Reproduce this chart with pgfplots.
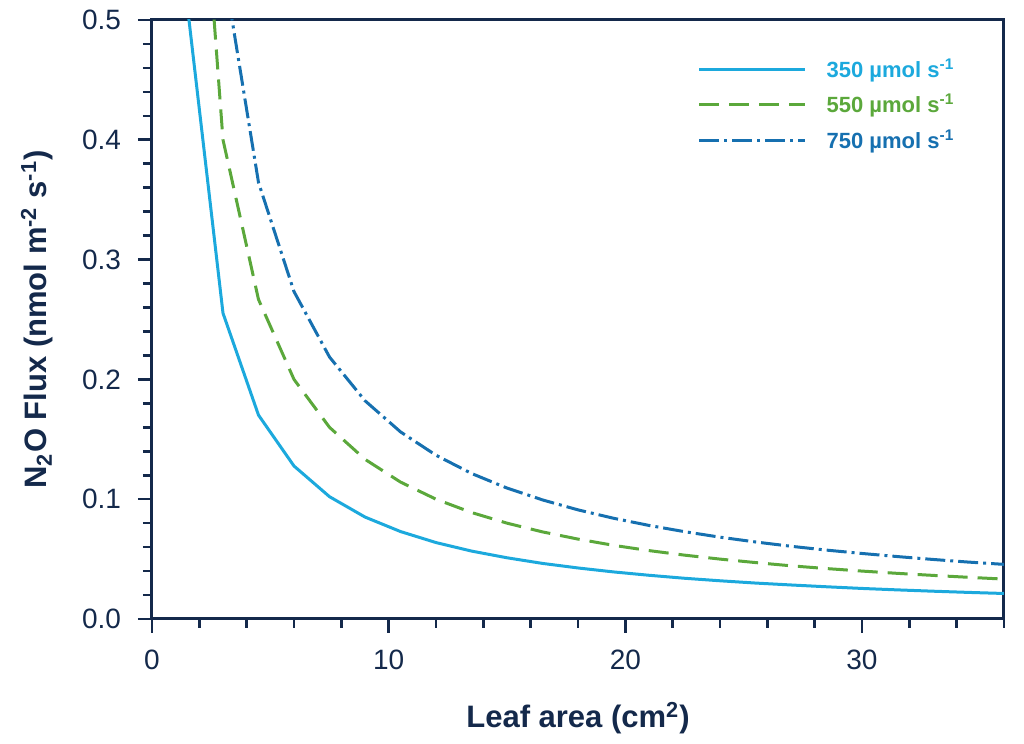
\documentclass[border=0pt]{standalone}
\usepackage{pgfplots}
\pgfplotsset{compat=1.18}
\usepackage{fontspec}
\setmainfont{Liberation Sans}
\definecolor{navy}{HTML}{14294B}
\definecolor{cA}{HTML}{1CA9DD}
\definecolor{cB}{HTML}{5BA83B}
\definecolor{cC}{HTML}{1670B0}
\begin{document}
\begin{tikzpicture}
\path[use as bounding box] (0,0) rectangle (512pt,372pt);
\begin{axis}[
  at={(76pt,62.5pt)}, anchor=south west,
  scale only axis, width=426pt, height=299.5pt,
  xmin=0, xmax=36, ymin=0, ymax=0.5,
  axis line style={navy, line width=1.5pt},
  every tick/.style={navy, line width=1.3pt},
  xtick={0,10,20,30}, minor xtick={2,4,6,8,12,14,16,18,22,24,26,28,32,34,36},
  ytick={0,0.1,0.2,0.3,0.4,0.5},
  minor ytick={0.02,0.04,0.06,0.08,0.12,0.14,0.16,0.18,0.22,0.24,0.26,0.28,0.32,0.34,0.36,0.38,0.42,0.44,0.46,0.48},
  tick align=outside,
  major tick length=7pt, minor tick length=4.5pt,
  xtick pos=bottom, ytick pos=left,
  /pgf/number format/assume math mode=true,
  yticklabel style={/pgf/number format/fixed, /pgf/number format/precision=1, /pgf/number format/fixed zerofill},
  ticklabel style={font=\fontsize{14}{16}\selectfont, text=navy},
  xticklabel style={yshift=-5pt},
  yticklabel style={xshift=-5pt},
  scaled y ticks=false,
  xlabel={Leaf area (cm\textsuperscript{2})},
  ylabel={N\textsubscript{2}O Flux (nmol m\textsuperscript{-2} s\textsuperscript{-1})},
  label style={font=\bfseries\fontsize{15.5}{18}\selectfont, text=navy},
  xlabel style={at={(0.5,0)}, anchor=center, yshift=-49.5pt},
  ylabel style={at={(0,0.5)}, anchor=center, rotate=0, yshift=57.5pt},
  legend style={at={(0.64,0.943)}, anchor=north west, draw=none, fill=none,
    font=\bfseries\fontsize{11}{13}\selectfont, inner sep=0pt, row sep=3pt,
    nodes={inner sep=2pt}},
  legend cell align=left,
  legend image code/.code={\draw[#1] (0pt,0pt) -- (53pt,0pt);},
  clip=true,
]
\addplot[cA, line width=1.5pt] coordinates {
(1.5,0.5107)(3,0.2553)(4.5,0.1702)(6,0.1277)(7.5,0.1021)(9,0.0851)(10.5,0.0730)(12,0.0638)
(13.5,0.0567)(15,0.0511)(16.5,0.0464)(18,0.0426)(19.5,0.0393)(21,0.0365)(22.5,0.0340)(24,0.0319)
(25.5,0.0300)(27,0.0284)(28.5,0.0269)(30,0.0255)(31.5,0.0243)(33,0.0232)(34.5,0.0222)(36,0.0213)};
\addlegendentry{\hspace{8pt}\textcolor{cA}{350 µmol s\textsuperscript{-1}}}
\addplot[cB, line width=1.5pt, dash pattern=on 10pt off 5pt] coordinates {
(1.5,0.8)(3,0.4)(4.5,0.2667)(6,0.2)(7.5,0.16)(9,0.1333)(10.5,0.1143)(12,0.1)
(13.5,0.0889)(15,0.08)(16.5,0.0727)(18,0.0667)(19.5,0.0615)(21,0.0571)(22.5,0.0533)(24,0.05)
(25.5,0.0471)(27,0.0444)(28.5,0.0421)(30,0.04)(31.5,0.0381)(33,0.0364)(34.5,0.0348)(36,0.0333)};
\addlegendentry{\hspace{8pt}\textcolor{cB}{550 µmol s\textsuperscript{-1}}}
\addplot[cC, line width=1.5pt, dash pattern=on 10pt off 2.5pt on 1.5pt off 2.5pt] coordinates {
(1.5,1.0933)(3,0.5467)(4.5,0.3644)(6,0.2733)(7.5,0.2187)(9,0.1822)(10.5,0.1562)(12,0.1367)
(13.5,0.1215)(15,0.1093)(16.5,0.0994)(18,0.0911)(19.5,0.0841)(21,0.0781)(22.5,0.0729)(24,0.0683)
(25.5,0.0643)(27,0.0607)(28.5,0.0575)(30,0.0547)(31.5,0.0521)(33,0.0497)(34.5,0.0475)(36,0.0456)};
\addlegendentry{\hspace{8pt}\textcolor{cC}{750 µmol s\textsuperscript{-1}}}
\end{axis}
\end{tikzpicture}
\end{document}
